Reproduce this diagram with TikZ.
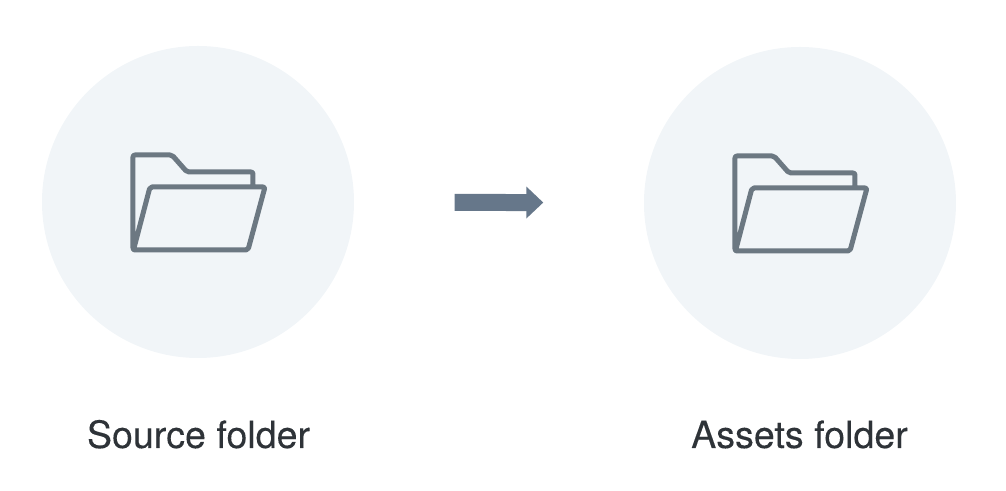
\documentclass[tikz,border=0pt]{standalone}
\usepackage{fontspec}
\setmainfont[FakeBold=0.12]{TeX Gyre Heros}
\usetikzlibrary{arrows.meta,positioning}

\definecolor{discbg}{HTML}{F1F5F8}
\definecolor{folderline}{HTML}{6C7882}
\definecolor{arrowfill}{HTML}{66778A}
\definecolor{labeltext}{HTML}{2E3338}

\tikzset{
    disc/.style={circle, fill=discbg, minimum size=3.12cm, inner sep=0pt},
    folderstroke/.style={draw=folderline, line width=0.05cm, line join=round, line cap=round, rounded corners=0.02cm},
    caption/.style={text=labeltext, font=\fontsize{10.7}{12}\selectfont, inner sep=0pt, anchor=base},
    flowarrow/.style={draw=arrowfill, line width=0.17cm, shorten <=1cm, shorten >=1cm,
        -{Triangle[length=0.17cm,width=0.31cm,fill=arrowfill]}},
    pics/folder/.style={code={
        \draw[folderstroke] (0.55,0.17) -- (0.55,0.30) -- (-0.11,0.30) -- (-0.26,0.47) -- (-0.65,0.47) -- (-0.65,-0.48) -- (0.50,-0.48) -- (0.67,0.15) -- (-0.48,0.15) -- (-0.64,-0.46);
    }}
}

\begin{document}
\begin{tikzpicture}
    \useasboundingbox (0,0) rectangle (10.06,4.91);
    \node[disc] (source) at (1.98,2.89) {};
    \node[disc] (assets) at (8.00,2.88) {};
    \draw[flowarrow] (source) -- (assets);
    \pic at (source) {folder};
    \pic at (assets) {folder};
    \node[caption] (sourcelabel) at (1.985,0.43) {Source folder};
    \node[caption] (assetslabel) at (7.995,0.43) {Assets folder};
\end{tikzpicture}
\end{document}
